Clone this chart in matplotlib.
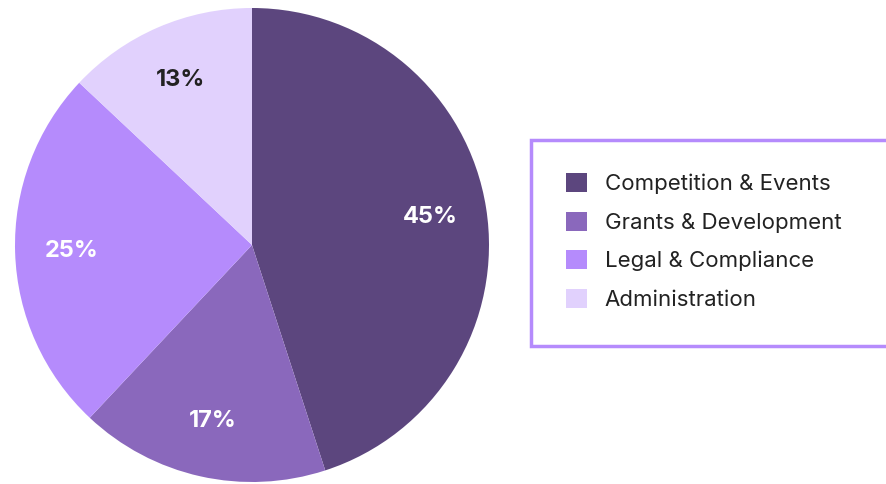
import matplotlib.pyplot as plt
from matplotlib.patches import Rectangle

categories = ["Competition & Events", "Grants & Development", "Legal & Compliance", "Administration"]
shares = [45, 17, 25, 13]
colors = ["#5c467e", "#8a68bc", "#b58bfc", "#e1d1fd"]
label_colors = ["white", "white", "white", "#222222"]

plt.rcParams['font.family'] = ['Inter', 'DejaVu Sans']

W, H = 887, 484
fig = plt.figure(figsize=(W / 100, H / 100), dpi=100)

# pie: centre (252, 245) px, radius 237 px
cx, cy, r = 252, 245, 237
ax = fig.add_axes([(cx - r) / W, (H - cy - r) / H, 2 * r / W, 2 * r / H])
wedges, texts, autotexts = ax.pie(
    shares, colors=colors, startangle=90, counterclock=False,
    autopct=lambda p: f"{p:.0f}%", pctdistance=0.76,
    wedgeprops=dict(linewidth=0))
for t, c in zip(autotexts, label_colors):
    t.set_color(c)
    t.set_fontsize(17)
    t.set_fontweight('bold')
ax.set_xlim(-1, 1)
ax.set_ylim(-1, 1)
ax.set_aspect('equal')

# legend frame (runs off the right edge)
fig.patches.append(Rectangle((531 / W, (H - 346) / H), 1.0, (346 - 140) / H,
                             transform=fig.transFigure, facecolor='white',
                             edgecolor='#b58bfc', linewidth=2.5, zorder=0))

fig.legend(wedges, categories, loc='center left',
           bbox_to_anchor=(566 / W, 1 - 241.5 / H), frameon=False,
           fontsize=16, handlelength=0.95, handleheight=0.95,
           handletextpad=0.8, labelspacing=0.78, borderpad=0,
           borderaxespad=0, labelcolor='#222222')

fig.savefig("out.png", dpi=100)
